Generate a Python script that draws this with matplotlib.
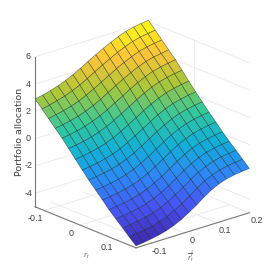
import matplotlib
matplotlib.use('Agg')
import matplotlib.pyplot as plt
import numpy as np
from matplotlib.colors import LinearSegmentedColormap
from mpl_toolkits.mplot3d import proj3d

plt.rcParams['font.family'] = ['Liberation Sans', 'DejaVu Sans']
plt.rcParams['mathtext.fontset'] = 'custom'
plt.rcParams['mathtext.it'] = 'Liberation Serif:italic'
plt.rcParams['mathtext.rm'] = 'Liberation Serif'

r_t = [-0.125, -0.106, -0.088, -0.069, -0.050, -0.032, -0.013, 0.006,
       0.024, 0.043, 0.062, 0.080, 0.099, 0.118, 0.136, 0.155]
r_bar = [-0.148, -0.125, -0.102, -0.078, -0.055, -0.032, -0.009, 0.014,
         0.038, 0.061, 0.084, 0.107, 0.130, 0.154, 0.177, 0.200]

# rows follow r_t, columns follow r_bar
alloc = [
    [2.90, 3.02, 3.17, 3.35, 3.57, 3.83, 4.13, 4.46, 4.78, 5.07, 5.34, 5.59, 5.80, 5.94, 6.03, 6.10],
    [2.38, 2.49, 2.64, 2.80, 3.02, 3.27, 3.57, 3.90, 4.23, 4.52, 4.80, 5.05, 5.26, 5.41, 5.50, 5.58],
    [1.87, 1.97, 2.10, 2.26, 2.46, 2.72, 3.01, 3.33, 3.66, 3.98, 4.26, 4.51, 4.73, 4.88, 4.98, 5.05],
    [1.35, 1.44, 1.57, 1.72, 1.92, 2.16, 2.45, 2.78, 3.12, 3.43, 3.72, 3.98, 4.20, 4.35, 4.44, 4.53],
    [0.83, 0.92, 1.03, 1.18, 1.38, 1.61, 1.89, 2.22, 2.56, 2.89, 3.19, 3.45, 3.67, 3.82, 3.92, 4.01],
    [0.27, 0.35, 0.46, 0.60, 0.79, 1.02, 1.30, 1.63, 1.97, 2.30, 2.61, 2.88, 3.09, 3.25, 3.35, 3.44],
    [-0.32, -0.24, -0.13, 0.00, 0.17, 0.40, 0.69, 1.01, 1.36, 1.70, 2.01, 2.28, 2.50, 2.65, 2.76, 2.84],
    [-0.90, -0.82, -0.73, -0.59, -0.42, -0.20, 0.08, 0.41, 0.76, 1.11, 1.43, 1.70, 1.92, 2.06, 2.18, 2.26],
    [-1.44, -1.36, -1.27, -1.14, -0.97, -0.76, -0.48, -0.15, 0.21, 0.56, 0.89, 1.16, 1.38, 1.52, 1.63, 1.72],
    [-1.97, -1.90, -1.81, -1.69, -1.53, -1.31, -1.03, -0.71, -0.35, 0.03, 0.35, 0.62, 0.84, 0.99, 1.09, 1.17],
    [-2.49, -2.42, -2.33, -2.22, -2.05, -1.84, -1.57, -1.24, -0.87, -0.50, -0.16, 0.11, 0.32, 0.47, 0.57, 0.65],
    [-3.01, -2.94, -2.85, -2.74, -2.57, -2.37, -2.10, -1.77, -1.39, -1.02, -0.67, -0.40, -0.19, -0.05, 0.05, 0.13],
    [-3.48, -3.42, -3.33, -3.22, -3.06, -2.85, -2.58, -2.25, -1.87, -1.48, -1.14, -0.87, -0.66, -0.52, -0.43, -0.36],
    [-3.94, -3.87, -3.78, -3.68, -3.52, -3.31, -3.04, -2.72, -2.33, -1.93, -1.58, -1.32, -1.11, -0.97, -0.89, -0.82],
    [-4.40, -4.33, -4.24, -4.14, -3.97, -3.77, -3.50, -3.17, -2.78, -2.37, -2.02, -1.76, -1.56, -1.42, -1.35, -1.28],
    [-4.85, -4.78, -4.69, -4.58, -4.43, -4.22, -3.95, -3.62, -3.23, -2.82, -2.46, -2.19, -2.00, -1.88, -1.80, -1.75],
]

x_ticks = [-0.1, 0, 0.1]
y_ticks = [-0.1, 0, 0.1, 0.2]
z_ticks = [-4, -2, 0, 2, 4, 6]
x_lim = (-0.125, 0.155)
y_lim = (-0.148, 0.2)
z_lim = (-5, 6)

parula = LinearSegmentedColormap.from_list('parula', [
    (0.2422, 0.1504, 0.6603), (0.2810, 0.3228, 0.9579), (0.1786, 0.5289, 0.9682),
    (0.0689, 0.6948, 0.8394), (0.2161, 0.7843, 0.5923), (0.6720, 0.7793, 0.2227),
    (0.9970, 0.7659, 0.2199), (0.9769, 0.9839, 0.0805)])

fig = plt.figure(figsize=(2.77, 2.77), dpi=100)
ax = fig.add_axes([0, 0, 1, 1], projection='3d', computed_zorder=False)
ax.set_proj_type('ortho')
ax.view_init(elev=20.8, azim=-41.1)
ax.set_box_aspect((153, 150, 160), zoom=0.94)
ax.set_xlim(*x_lim)
ax.set_ylim(*y_lim)
ax.set_zlim(*z_lim)
ax.set_axis_off()

GRID = dict(color='#e8e8e8', lw=0.6, zorder=1)
AXIS = dict(color='#777777', lw=0.8, zorder=2)
x0, x1 = x_lim
y0, y1 = y_lim
z0, z1 = z_lim

# walls and floor behind the surface
for z in z_ticks:
    ax.plot([x0, x0, x1], [y0, y1, y1], [z, z, z], **GRID)
ax.plot([0, 0], [y1, y1], [z0, z1], **GRID)
for x in x_ticks:
    ax.plot([x, x], [y0, y1], [z0, z0], **GRID)
for y in y_ticks:
    ax.plot([x0, x1], [y, y], [z0, z0], **GRID)

ax.plot([x0, x0], [y0, y0], [z0, z1], **AXIS)
ax.plot([x0, x1], [y0, y0], [z0, z0], **AXIS)
ax.plot([x1, x1], [y0, y1], [z0, z0], **AXIS)

X, Y = np.meshgrid(r_t, r_bar, indexing='ij')
Z = np.array(alloc)
ax.plot_surface(X, Y, Z, rstride=1, cstride=1, cmap=parula, vmin=-4.85, vmax=6.1,
                shade=False, edgecolor=(0.05, 0.1, 0.1, 0.6), linewidth=0.4, zorder=3)


def label(x, y, z, s, dx, dy, **kw):
    px, py, _ = proj3d.proj_transform(x, y, z, ax.get_proj())
    ax.annotate(s, (px, py), xytext=(dx, dy), textcoords='offset pixels',
                ha='center', va='center', color='#404040', **kw)


fig.canvas.draw()
for v in z_ticks:
    label(x0, y0, v, str(v), -7, 0, fontsize=6.5)
for v in x_ticks:
    label(v, y0, z0, str(v), -9, -8, fontsize=6.5)
for v in y_ticks:
    label(x1, v, z0, str(v), 8, -8, fontsize=6.5)
label(x0, y0, 0.5, 'Portfolio allocation', -16, 0, fontsize=6.8, rotation=90,
      family='DejaVu Sans')
label(0.03, y0, z0, r'$r_t$', -4, -27, fontsize=6, alpha=0.8)
label(x1, 0.03, z0, r'$\overline{r}_t^f$', -3, -27, fontsize=6, alpha=0.8)

fig.savefig('out.png', dpi=100)
